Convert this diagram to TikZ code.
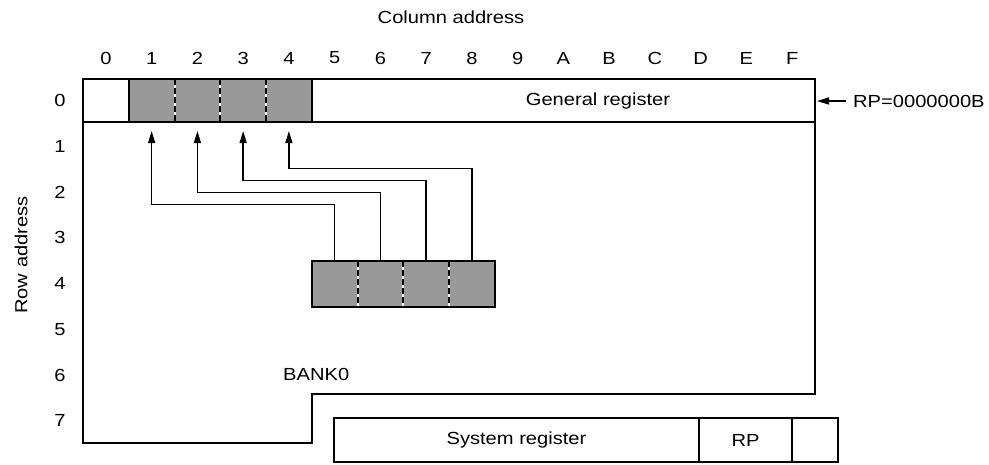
\documentclass[tikz,border=0pt]{standalone}
\usepackage{fontspec}
\setmainfont{Liberation Sans}[FakeStretch=1.15]
\usetikzlibrary{arrows.meta}
\begin{document}
\begin{tikzpicture}[x=1pt,y=-1pt,
  lbl/.style={font=\fontsize{17.5}{20}\selectfont, inner sep=0pt},
  outline/.style={line width=2.4pt, line join=miter},
  shade0/.style={fill=black!40, minimum width=45.75pt, minimum height=43pt, inner sep=0pt, outer sep=0pt},
  shade4/.style={fill=black!40, minimum width=45.75pt, minimum height=45.75pt, inner sep=0pt, outer sep=0pt},
  divider/.style={line width=2pt, dash pattern=on 6pt off 3pt},
  gapline/.style={line width=2pt, white},
  conn/.style={line width=1.4pt, -{Triangle[length=12pt,width=7pt]}, shorten >=9pt},
  rparrow/.style={line width=1.4pt, -{Triangle[length=12pt,width=7pt]}},
  sysbox/.style={draw, line width=2.2pt, minimum height=44pt, inner sep=0pt, outer sep=0pt}]
\useasboundingbox (0,0) rectangle (989,464);

% column and row labels
\node[lbl] (coltitle) at (451,17) {Column address};
\foreach \c/\t in {0/0,1/1,2/2,3/3,4/4,5/5,6/6,7/7,8/8,9/9,10/A,11/B,12/C,13/D,14/E,15/F}
  \node[lbl] (col\c) at ({105.9+45.75*\c},58) {\t};
\foreach \r in {0,...,7}
  \node[lbl] (row\r) at (60,{100.5+45.75*\r}) {\r};
\node[lbl, rotate=90] (rowtitle) at (21,255) {Row address};

% shaded cells, row 0
\foreach \k in {1,...,4}
  \node[shade0] (s\k) at ({105.9+45.75*\k},100.5) {};
% shaded cells, row 4
\foreach \k in {5,...,8}
  \node[shade4] (d\k) at ({105.9+45.75*\k},283.9) {};

% dashed dividers
\foreach \k in {1,2,3} {
  \draw[gapline] (s\k.north east) -- (s\k.south east);
  \draw[divider] (s\k.north east) -- (s\k.south east);
}
\foreach \k in {5,6,7} {
  \draw[gapline] (d\k.north east) -- (d\k.south east);
  \draw[divider] (d\k.north east) -- (d\k.south east);
}
\draw[line width=2.2pt] (s1.north west) rectangle (s4.south east);
\draw[line width=2.2pt] (d5.north west) rectangle (d8.south east);

% bank outline
\coordinate (tl) at (83,79);
\coordinate (tr) at (815,79);
\coordinate (br) at (815,394);
\coordinate (stepin) at (311.75,394);
\coordinate (stepout) at (311.75,443);
\coordinate (bl) at (83,443);
\draw[outline] (tl) -- (tr) -- (br) -- (stepin) -- (stepout) -- (bl) -- cycle;
\draw[outline] (83,122) -- (815,122);

\node[lbl] (genreg) at (598,101) {General register};
\node[lbl, anchor=west] (bank) at (283,374) {BANK0};

% connectors
\draw[conn] (d5.north) -- ++(0,-56.3) -| (s1.south);
\draw[conn] (d6.north) -- ++(0,-68.7) -| (s2.south);
\draw[conn] (d7.north) -- ++(0,-80.3) -| (s3.south);
\draw[conn] (d8.north) -- ++(0,-92.3) -| (s4.south);

% RP pointer
\node[lbl, anchor=west] (rpval) at (853,101) {RP=0000000B};
\coordinate (rptip) at (817,101);
\draw[rparrow] ([xshift=-7pt]rpval.west) -- (rptip);

% system register box
\node[sysbox, minimum width=365pt] (sysreg) at (516.5,440) {\fontsize{17.5}{20}\selectfont System register};
\node[sysbox, minimum width=93pt, anchor=west] (rp) at (sysreg.east) {\fontsize{17.5}{20}\selectfont RP};
\node[sysbox, minimum width=46pt, anchor=west] (blank) at (rp.east) {};
\end{tikzpicture}
\end{document}
